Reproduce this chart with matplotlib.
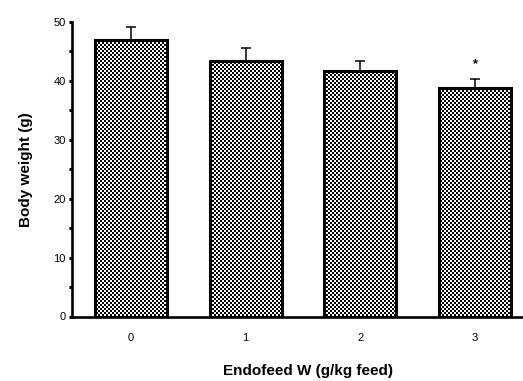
import numpy as np
import matplotlib
matplotlib.use("Agg")
import matplotlib.pyplot as plt

# data
doses = ["0", "1", "2", "3"]
weights = [47.0, 43.3, 41.7, 38.8]
sem = [2.2, 2.3, 1.7, 1.6]
marks = ["", "", "", "*"]

plt.rcParams["font.family"] = ["Liberation Sans", "DejaVu Sans"]

W, H = 523, 381
fig = plt.figure(figsize=(W / 100, H / 100), dpi=100)
ax = fig.add_axes([72 / W, 1 - 316.5 / H, 1 - 72 / W, (316.5 - 22) / H])
ax.patch.set_alpha(0)

x = np.arange(len(doses))
bars = ax.bar(x, weights, width=0.63, facecolor="none", edgecolor="black",
              linewidth=2.2, zorder=2)
ax.errorbar(x, weights, yerr=[np.zeros(len(sem)), sem], fmt="none",
            ecolor="black", elinewidth=1.1, capsize=3.6, capthick=1.1, zorder=1)

for xi, m, s, mk in zip(x, weights, sem, marks):
    if mk:
        ax.annotate(mk, (xi, m + s), xytext=(0, 10), textcoords="offset points",
                    ha="center", va="center", fontsize=9, fontweight="bold")

# checkerboard fill of the bars, one pixel-aligned image per bar
yy, xx = np.indices((H, W))
checker = ((yy // 2 + xx // 2) % 2).astype(float)
for b in bars:
    im = fig.figimage(checker, cmap="gray", vmin=0, vmax=1, zorder=-1)
    im.set_clip_path(b)

ax.set_xlim(-0.514, 3.418)
ax.set_ylim(0, 50)
ax.set_yticks([0, 10, 20, 30, 40, 50])
ax.set_yticks([5, 15, 25, 35, 45], minor=True)
ax.set_xticks(x)
ax.set_xticklabels(doses)
ax.spines["top"].set_visible(False)
ax.spines["right"].set_visible(False)
ax.spines["left"].set_linewidth(1.9)
ax.spines["bottom"].set_linewidth(1.9)
ax.tick_params(axis="y", which="both", length=2.5, width=2.2, labelsize=8, pad=2)
ax.tick_params(axis="x", length=0, labelsize=8, pad=12)

ax.set_xlabel("Endofeed W (g/kg feed)", fontsize=11, fontweight="bold")
ax.set_ylabel("Body weight (g)", fontsize=11, fontweight="bold")
ax.xaxis.set_label_coords((308 - 72) / (W - 72), -(364 - 316.5) / (316.5 - 22))
ax.yaxis.set_label_coords(-(72 - 33) / (W - 72), (316.5 - 170) / (316.5 - 22))

fig.savefig("out.png", dpi=100)
